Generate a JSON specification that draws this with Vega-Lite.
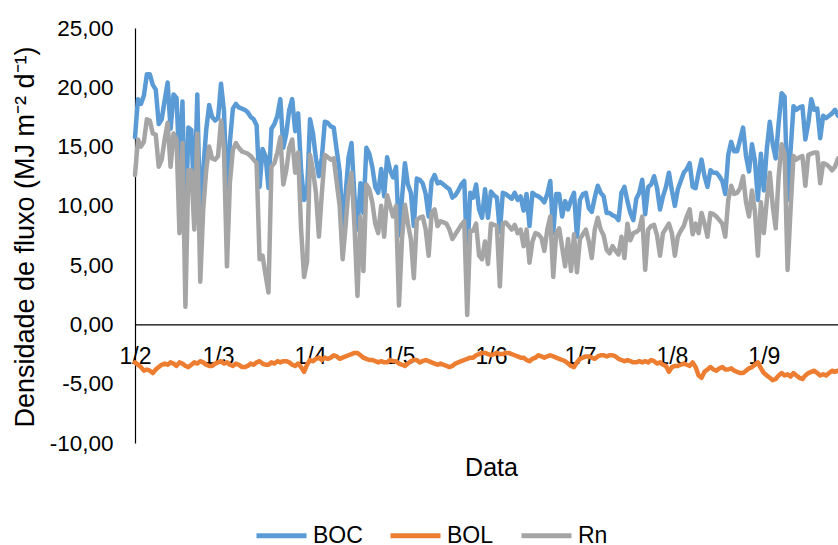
{
 "$schema": "https://vega.github.io/schema/vega-lite/v6.json",
 "width": 703, "height": 415,
 "autosize": {"type": "none"},
 "padding": {"left": 135, "top": 28, "right": 0, "bottom": 102},
 "background": "white",
 "config": {"view": {"stroke": null}, "font": "Liberation Sans"},
 "data": {"values": [
{"data":"2019-02-01","BOC":15.8,"BOL":-3.2,"Rn":12.6},
{"data":"2019-02-02","BOC":19.0,"BOL":-3.4,"Rn":15.6},
{"data":"2019-02-03","BOC":18.6,"BOL":-3.6,"Rn":15.0},
{"data":"2019-02-04","BOC":19.3,"BOL":-3.9,"Rn":15.4},
{"data":"2019-02-05","BOC":21.1,"BOL":-3.8,"Rn":17.3},
{"data":"2019-02-06","BOC":21.1,"BOL":-3.9,"Rn":17.2},
{"data":"2019-02-07","BOC":20.2,"BOL":-4.1,"Rn":16.1},
{"data":"2019-02-08","BOC":19.8,"BOL":-3.8,"Rn":16.0},
{"data":"2019-02-09","BOC":16.9,"BOL":-3.6,"Rn":13.3},
{"data":"2019-02-10","BOC":17.3,"BOL":-3.4,"Rn":13.9},
{"data":"2019-02-11","BOC":18.9,"BOL":-3.3,"Rn":15.6},
{"data":"2019-02-12","BOC":20.4,"BOL":-3.4,"Rn":17.0},
{"data":"2019-02-13","BOC":16.5,"BOL":-3.2,"Rn":13.3},
{"data":"2019-02-14","BOC":19.4,"BOL":-3.3,"Rn":16.1},
{"data":"2019-02-15","BOC":19.1,"BOL":-3.5,"Rn":15.6},
{"data":"2019-02-16","BOC":13.3,"BOL":-3.2,"Rn":7.7},
{"data":"2019-02-17","BOC":18.8,"BOL":-3.3,"Rn":15.3},
{"data":"2019-02-18","BOC":7.5,"BOL":-3.5,"Rn":1.5},
{"data":"2019-02-19","BOC":16.6,"BOL":-3.6,"Rn":13.0},
{"data":"2019-02-20","BOC":16.4,"BOL":-3.4,"Rn":13.0},
{"data":"2019-02-21","BOC":10.0,"BOL":-3.2,"Rn":8.0},
{"data":"2019-02-22","BOC":19.4,"BOL":-3.3,"Rn":16.1},
{"data":"2019-02-23","BOC":8.3,"BOL":-3.1,"Rn":3.6},
{"data":"2019-02-24","BOC":13.0,"BOL":-3.2,"Rn":9.7},
{"data":"2019-02-25","BOC":16.4,"BOL":-3.4,"Rn":13.0},
{"data":"2019-02-26","BOC":18.5,"BOL":-3.5,"Rn":15.0},
{"data":"2019-02-27","BOC":17.5,"BOL":-3.5,"Rn":14.0},
{"data":"2019-02-28","BOC":17.2,"BOL":-3.3,"Rn":13.9},
{"data":"2019-03-01","BOC":17.4,"BOL":-3.2,"Rn":14.2},
{"data":"2019-03-02","BOC":20.3,"BOL":-3.1,"Rn":17.2},
{"data":"2019-03-03","BOC":18.0,"BOL":-3.3,"Rn":14.7},
{"data":"2019-03-04","BOC":10.5,"BOL":-3.2,"Rn":4.9},
{"data":"2019-03-05","BOC":15.4,"BOL":-3.4,"Rn":12.0},
{"data":"2019-03-06","BOC":18.2,"BOL":-3.5,"Rn":14.7},
{"data":"2019-03-07","BOC":18.6,"BOL":-3.3,"Rn":15.3},
{"data":"2019-03-08","BOC":18.3,"BOL":-3.4,"Rn":14.9},
{"data":"2019-03-09","BOC":18.2,"BOL":-3.6,"Rn":14.6},
{"data":"2019-03-10","BOC":18.1,"BOL":-3.6,"Rn":14.5},
{"data":"2019-03-11","BOC":17.9,"BOL":-3.5,"Rn":14.4},
{"data":"2019-03-12","BOC":17.5,"BOL":-3.3,"Rn":14.2},
{"data":"2019-03-13","BOC":17.3,"BOL":-3.4,"Rn":13.9},
{"data":"2019-03-14","BOC":16.8,"BOL":-3.2,"Rn":13.6},
{"data":"2019-03-15","BOC":11.6,"BOL":-3.1,"Rn":5.5},
{"data":"2019-03-16","BOC":14.8,"BOL":-3.3,"Rn":5.8},
{"data":"2019-03-17","BOC":14.2,"BOL":-3.4,"Rn":4.2},
{"data":"2019-03-18","BOC":11.5,"BOL":-3.4,"Rn":2.7},
{"data":"2019-03-19","BOC":16.5,"BOL":-3.2,"Rn":13.3},
{"data":"2019-03-20","BOC":16.9,"BOL":-3.3,"Rn":13.6},
{"data":"2019-03-21","BOC":17.6,"BOL":-3.1,"Rn":14.5},
{"data":"2019-03-22","BOC":19.0,"BOL":-3.2,"Rn":15.8},
{"data":"2019-03-23","BOC":14.9,"BOL":-3.1,"Rn":11.8},
{"data":"2019-03-24","BOC":16.1,"BOL":-3.1,"Rn":13.0},
{"data":"2019-03-25","BOC":18.1,"BOL":-3.2,"Rn":14.9},
{"data":"2019-03-26","BOC":19.0,"BOL":-3.4,"Rn":15.6},
{"data":"2019-03-27","BOC":16.3,"BOL":-3.5,"Rn":12.8},
{"data":"2019-03-28","BOC":17.8,"BOL":-3.3,"Rn":14.5},
{"data":"2019-03-29","BOC":13.0,"BOL":-3.6,"Rn":8.0},
{"data":"2019-03-30","BOC":10.5,"BOL":-4.0,"Rn":4.0},
{"data":"2019-03-31","BOC":11.0,"BOL":-3.4,"Rn":5.3},
{"data":"2019-04-01","BOC":17.3,"BOL":-3.0,"Rn":14.3},
{"data":"2019-04-02","BOC":16.1,"BOL":-3.1,"Rn":13.0},
{"data":"2019-04-03","BOC":14.0,"BOL":-2.9,"Rn":11.1},
{"data":"2019-04-04","BOC":12.5,"BOL":-2.8,"Rn":7.4},
{"data":"2019-04-05","BOC":14.1,"BOL":-3.0,"Rn":11.1},
{"data":"2019-04-06","BOC":17.1,"BOL":-2.8,"Rn":14.3},
{"data":"2019-04-07","BOC":17.0,"BOL":-2.9,"Rn":14.1},
{"data":"2019-04-08","BOC":16.7,"BOL":-2.8,"Rn":13.9},
{"data":"2019-04-09","BOC":16.6,"BOL":-2.6,"Rn":14.0},
{"data":"2019-04-10","BOC":14.7,"BOL":-2.7,"Rn":12.0},
{"data":"2019-04-11","BOC":12.9,"BOL":-2.9,"Rn":10.0},
{"data":"2019-04-12","BOC":8.3,"BOL":-2.8,"Rn":5.5},
{"data":"2019-04-13","BOC":11.0,"BOL":-2.7,"Rn":8.3},
{"data":"2019-04-14","BOC":14.1,"BOL":-2.6,"Rn":11.5},
{"data":"2019-04-15","BOC":15.3,"BOL":-2.5,"Rn":12.8},
{"data":"2019-04-16","BOC":10.7,"BOL":-2.4,"Rn":8.3},
{"data":"2019-04-17","BOC":8.0,"BOL":-2.4,"Rn":2.4},
{"data":"2019-04-18","BOC":11.9,"BOL":-2.6,"Rn":9.1},
{"data":"2019-04-19","BOC":9.4,"BOL":-2.8,"Rn":4.5},
{"data":"2019-04-20","BOC":14.9,"BOL":-2.9,"Rn":11.8},
{"data":"2019-04-21","BOC":14.4,"BOL":-3.0,"Rn":11.4},
{"data":"2019-04-22","BOC":13.3,"BOL":-3.0,"Rn":10.3},
{"data":"2019-04-23","BOC":11.6,"BOL":-3.1,"Rn":8.5},
{"data":"2019-04-24","BOC":11.1,"BOL":-3.2,"Rn":7.7},
{"data":"2019-04-25","BOC":13.1,"BOL":-3.1,"Rn":10.0},
{"data":"2019-04-26","BOC":10.8,"BOL":-3.2,"Rn":7.4},
{"data":"2019-04-27","BOC":14.1,"BOL":-3.2,"Rn":10.9},
{"data":"2019-04-28","BOC":13.0,"BOL":-3.0,"Rn":10.0},
{"data":"2019-04-29","BOC":12.4,"BOL":-3.1,"Rn":9.1},
{"data":"2019-04-30","BOC":13.3,"BOL":-3.1,"Rn":10.0},
{"data":"2019-05-01","BOC":7.5,"BOL":-3.3,"Rn":1.6},
{"data":"2019-05-02","BOC":10.6,"BOL":-3.4,"Rn":7.2},
{"data":"2019-05-03","BOC":13.6,"BOL":-3.5,"Rn":10.1},
{"data":"2019-05-04","BOC":11.8,"BOL":-3.3,"Rn":8.5},
{"data":"2019-05-05","BOC":11.1,"BOL":-3.1,"Rn":7.2},
{"data":"2019-05-06","BOC":8.3,"BOL":-3.0,"Rn":3.9},
{"data":"2019-05-07","BOC":12.3,"BOL":-3.0,"Rn":8.8},
{"data":"2019-05-08","BOC":12.2,"BOL":-3.2,"Rn":9.0},
{"data":"2019-05-09","BOC":11.9,"BOL":-3.1,"Rn":9.1},
{"data":"2019-05-10","BOC":11.0,"BOL":-3.0,"Rn":8.0},
{"data":"2019-05-11","BOC":9.1,"BOL":-3.1,"Rn":5.8},
{"data":"2019-05-12","BOC":12.1,"BOL":-3.2,"Rn":9.4},
{"data":"2019-05-13","BOC":12.6,"BOL":-3.3,"Rn":9.7},
{"data":"2019-05-14","BOC":11.9,"BOL":-3.4,"Rn":8.3},
{"data":"2019-05-15","BOC":12.0,"BOL":-3.3,"Rn":8.7},
{"data":"2019-05-16","BOC":11.8,"BOL":-3.4,"Rn":8.6},
{"data":"2019-05-17","BOC":11.6,"BOL":-3.5,"Rn":8.5},
{"data":"2019-05-18","BOC":11.4,"BOL":-3.6,"Rn":8.0},
{"data":"2019-05-19","BOC":10.7,"BOL":-3.5,"Rn":7.2},
{"data":"2019-05-20","BOC":10.9,"BOL":-3.3,"Rn":7.6},
{"data":"2019-05-21","BOC":11.3,"BOL":-3.2,"Rn":8.0},
{"data":"2019-05-22","BOC":11.8,"BOL":-3.1,"Rn":8.4},
{"data":"2019-05-23","BOC":12.1,"BOL":-3.0,"Rn":8.7},
{"data":"2019-05-24","BOC":5.5,"BOL":-2.9,"Rn":0.8},
{"data":"2019-05-25","BOC":11.1,"BOL":-2.8,"Rn":7.9},
{"data":"2019-05-26","BOC":10.7,"BOL":-2.8,"Rn":7.9},
{"data":"2019-05-27","BOC":11.8,"BOL":-2.6,"Rn":8.5},
{"data":"2019-05-28","BOC":9.7,"BOL":-2.5,"Rn":5.8},
{"data":"2019-05-29","BOC":9.0,"BOL":-2.4,"Rn":5.5},
{"data":"2019-05-30","BOC":11.4,"BOL":-2.4,"Rn":7.0},
{"data":"2019-05-31","BOC":9.0,"BOL":-2.5,"Rn":5.1},
{"data":"2019-06-01","BOC":11.2,"BOL":-2.6,"Rn":8.5},
{"data":"2019-06-02","BOC":10.9,"BOL":-2.5,"Rn":8.4},
{"data":"2019-06-03","BOC":10.7,"BOL":-2.4,"Rn":8.3},
{"data":"2019-06-04","BOC":7.8,"BOL":-2.5,"Rn":3.2},
{"data":"2019-06-05","BOC":11.1,"BOL":-2.5,"Rn":8.5},
{"data":"2019-06-06","BOC":11.0,"BOL":-2.4,"Rn":8.6},
{"data":"2019-06-07","BOC":10.8,"BOL":-2.4,"Rn":8.3},
{"data":"2019-06-08","BOC":10.6,"BOL":-2.5,"Rn":8.0},
{"data":"2019-06-09","BOC":11.1,"BOL":-2.6,"Rn":8.4},
{"data":"2019-06-10","BOC":10.5,"BOL":-2.7,"Rn":7.7},
{"data":"2019-06-11","BOC":10.8,"BOL":-2.8,"Rn":8.0},
{"data":"2019-06-12","BOC":9.6,"BOL":-2.8,"Rn":6.6},
{"data":"2019-06-13","BOC":11.0,"BOL":-3.0,"Rn":8.0},
{"data":"2019-06-14","BOC":8.3,"BOL":-3.1,"Rn":5.2},
{"data":"2019-06-15","BOC":11.1,"BOL":-2.9,"Rn":7.0},
{"data":"2019-06-16","BOC":10.9,"BOL":-2.8,"Rn":7.7},
{"data":"2019-06-17","BOC":10.8,"BOL":-2.6,"Rn":7.6},
{"data":"2019-06-18","BOC":10.6,"BOL":-2.7,"Rn":7.3},
{"data":"2019-06-19","BOC":10.3,"BOL":-2.8,"Rn":6.2},
{"data":"2019-06-20","BOC":11.0,"BOL":-2.7,"Rn":8.0},
{"data":"2019-06-21","BOC":12.1,"BOL":-2.6,"Rn":9.1},
{"data":"2019-06-22","BOC":7.7,"BOL":-2.7,"Rn":4.0},
{"data":"2019-06-23","BOC":11.0,"BOL":-2.8,"Rn":7.7},
{"data":"2019-06-24","BOC":11.0,"BOL":-2.9,"Rn":8.1},
{"data":"2019-06-25","BOC":9.1,"BOL":-3.0,"Rn":6.5},
{"data":"2019-06-26","BOC":10.4,"BOL":-3.1,"Rn":4.9},
{"data":"2019-06-27","BOC":9.7,"BOL":-3.3,"Rn":7.2},
{"data":"2019-06-28","BOC":10.5,"BOL":-3.5,"Rn":4.5},
{"data":"2019-06-29","BOC":11.1,"BOL":-3.6,"Rn":7.6},
{"data":"2019-06-30","BOC":7.4,"BOL":-3.2,"Rn":4.4},
{"data":"2019-07-01","BOC":10.5,"BOL":-2.9,"Rn":7.2},
{"data":"2019-07-02","BOC":11.0,"BOL":-2.8,"Rn":7.6},
{"data":"2019-07-03","BOC":11.1,"BOL":-2.7,"Rn":8.0},
{"data":"2019-07-04","BOC":9.8,"BOL":-2.7,"Rn":7.0},
{"data":"2019-07-05","BOC":9.5,"BOL":-2.8,"Rn":5.6},
{"data":"2019-07-06","BOC":10.7,"BOL":-2.9,"Rn":8.0},
{"data":"2019-07-07","BOC":11.7,"BOL":-2.7,"Rn":9.0},
{"data":"2019-07-08","BOC":11.1,"BOL":-2.6,"Rn":8.0},
{"data":"2019-07-09","BOC":10.8,"BOL":-2.6,"Rn":7.5},
{"data":"2019-07-10","BOC":9.4,"BOL":-2.7,"Rn":6.3},
{"data":"2019-07-11","BOC":9.4,"BOL":-2.6,"Rn":6.0},
{"data":"2019-07-12","BOC":9.2,"BOL":-2.6,"Rn":6.6},
{"data":"2019-07-13","BOC":9.1,"BOL":-2.7,"Rn":6.2},
{"data":"2019-07-14","BOC":8.8,"BOL":-2.9,"Rn":5.9},
{"data":"2019-07-15","BOC":11.1,"BOL":-3.0,"Rn":7.4},
{"data":"2019-07-16","BOC":11.6,"BOL":-3.1,"Rn":5.6},
{"data":"2019-07-17","BOC":10.4,"BOL":-3.0,"Rn":8.5},
{"data":"2019-07-18","BOC":9.4,"BOL":-3.1,"Rn":7.1},
{"data":"2019-07-19","BOC":8.8,"BOL":-3.2,"Rn":7.7},
{"data":"2019-07-20","BOC":10.6,"BOL":-3.2,"Rn":7.8},
{"data":"2019-07-21","BOC":11.1,"BOL":-3.1,"Rn":8.0},
{"data":"2019-07-22","BOC":12.2,"BOL":-3.2,"Rn":9.1},
{"data":"2019-07-23","BOC":9.3,"BOL":-3.1,"Rn":4.6},
{"data":"2019-07-24","BOC":11.6,"BOL":-3.2,"Rn":8.0},
{"data":"2019-07-25","BOC":11.8,"BOL":-3.0,"Rn":8.3},
{"data":"2019-07-26","BOC":12.5,"BOL":-3.1,"Rn":8.4},
{"data":"2019-07-27","BOC":11.5,"BOL":-3.3,"Rn":7.5},
{"data":"2019-07-28","BOC":9.7,"BOL":-3.2,"Rn":5.8},
{"data":"2019-07-29","BOC":10.8,"BOL":-3.4,"Rn":7.7},
{"data":"2019-07-30","BOC":11.6,"BOL":-3.5,"Rn":8.1},
{"data":"2019-07-31","BOC":12.8,"BOL":-4.0,"Rn":8.5},
{"data":"2019-08-01","BOC":11.3,"BOL":-3.6,"Rn":7.7},
{"data":"2019-08-02","BOC":10.0,"BOL":-3.5,"Rn":5.8},
{"data":"2019-08-03","BOC":11.4,"BOL":-3.5,"Rn":7.4},
{"data":"2019-08-04","BOC":12.1,"BOL":-3.4,"Rn":7.9},
{"data":"2019-08-05","BOC":12.8,"BOL":-3.3,"Rn":8.3},
{"data":"2019-08-06","BOC":13.1,"BOL":-3.4,"Rn":9.1},
{"data":"2019-08-07","BOC":13.6,"BOL":-3.5,"Rn":9.7},
{"data":"2019-08-08","BOC":11.6,"BOL":-3.2,"Rn":7.6},
{"data":"2019-08-09","BOC":11.5,"BOL":-3.6,"Rn":8.5},
{"data":"2019-08-10","BOC":12.8,"BOL":-4.3,"Rn":7.7},
{"data":"2019-08-11","BOC":13.9,"BOL":-4.5,"Rn":9.4},
{"data":"2019-08-12","BOC":12.5,"BOL":-4.0,"Rn":8.5},
{"data":"2019-08-13","BOC":11.6,"BOL":-3.8,"Rn":7.4},
{"data":"2019-08-14","BOC":13.0,"BOL":-3.6,"Rn":9.4},
{"data":"2019-08-15","BOC":12.8,"BOL":-3.8,"Rn":9.3},
{"data":"2019-08-16","BOC":12.8,"BOL":-3.9,"Rn":9.1},
{"data":"2019-08-17","BOC":12.5,"BOL":-3.7,"Rn":8.8},
{"data":"2019-08-18","BOC":12.1,"BOL":-3.6,"Rn":8.5},
{"data":"2019-08-19","BOC":11.0,"BOL":-3.8,"Rn":7.4},
{"data":"2019-08-20","BOC":14.3,"BOL":-3.8,"Rn":10.5},
{"data":"2019-08-21","BOC":15.4,"BOL":-3.7,"Rn":11.7},
{"data":"2019-08-22","BOC":14.6,"BOL":-3.9,"Rn":11.0},
{"data":"2019-08-23","BOC":14.6,"BOL":-4.0,"Rn":11.1},
{"data":"2019-08-24","BOC":15.6,"BOL":-4.1,"Rn":11.5},
{"data":"2019-08-25","BOC":16.6,"BOL":-4.1,"Rn":12.5},
{"data":"2019-08-26","BOC":14.2,"BOL":-3.9,"Rn":10.3},
{"data":"2019-08-27","BOC":12.9,"BOL":-3.7,"Rn":9.1},
{"data":"2019-08-28","BOC":15.2,"BOL":-3.6,"Rn":11.3},
{"data":"2019-08-29","BOC":13.8,"BOL":-3.4,"Rn":9.5},
{"data":"2019-08-30","BOC":10.5,"BOL":-3.2,"Rn":5.8},
{"data":"2019-08-31","BOC":14.4,"BOL":-3.7,"Rn":10.3},
{"data":"2019-09-01","BOC":11.3,"BOL":-4.1,"Rn":7.7},
{"data":"2019-09-02","BOC":14.8,"BOL":-4.3,"Rn":10.5},
{"data":"2019-09-03","BOC":17.1,"BOL":-4.5,"Rn":12.8},
{"data":"2019-09-04","BOC":15.2,"BOL":-4.7,"Rn":10.0},
{"data":"2019-09-05","BOC":14.0,"BOL":-4.6,"Rn":8.1},
{"data":"2019-09-06","BOC":17.0,"BOL":-4.3,"Rn":12.5},
{"data":"2019-09-07","BOC":19.5,"BOL":-4.1,"Rn":15.2},
{"data":"2019-09-08","BOC":19.2,"BOL":-4.3,"Rn":14.4},
{"data":"2019-09-09","BOC":10.5,"BOL":-4.2,"Rn":4.6},
{"data":"2019-09-10","BOC":14.6,"BOL":-4.4,"Rn":9.7},
{"data":"2019-09-11","BOC":18.4,"BOL":-4.1,"Rn":14.2},
{"data":"2019-09-12","BOC":18.1,"BOL":-4.3,"Rn":13.9},
{"data":"2019-09-13","BOC":18.3,"BOL":-4.5,"Rn":14.1},
{"data":"2019-09-14","BOC":18.4,"BOL":-4.6,"Rn":14.2},
{"data":"2019-09-15","BOC":15.6,"BOL":-4.3,"Rn":11.7},
{"data":"2019-09-16","BOC":17.0,"BOL":-4.1,"Rn":14.3},
{"data":"2019-09-17","BOC":19.0,"BOL":-4.0,"Rn":14.4},
{"data":"2019-09-18","BOC":18.1,"BOL":-3.9,"Rn":14.5},
{"data":"2019-09-19","BOC":18.2,"BOL":-4.1,"Rn":14.5},
{"data":"2019-09-20","BOC":15.7,"BOL":-4.3,"Rn":11.9},
{"data":"2019-09-21","BOC":17.6,"BOL":-4.2,"Rn":13.6},
{"data":"2019-09-22","BOC":17.4,"BOL":-4.3,"Rn":13.5},
{"data":"2019-09-23","BOC":17.6,"BOL":-4.1,"Rn":13.3},
{"data":"2019-09-24","BOC":17.8,"BOL":-3.9,"Rn":13.0},
{"data":"2019-09-25","BOC":18.1,"BOL":-4.0,"Rn":13.3},
{"data":"2019-09-26","BOC":17.6,"BOL":-3.9,"Rn":14.0}
 ]},
 "transform": [{"fold": ["BOC", "BOL", "Rn"], "as": ["serie", "valor"]}],
 "mark": {"type": "line", "strokeWidth": 4.5, "strokeJoin": "round", "strokeCap": "round"},
 "encoding": {
  "x": {
   "field": "data", "type": "temporal",
   "scale": {"type": "utc", "nice": false, "domain": [{"year": 2019, "month": 2, "date": 1, "utc": true}, {"year": 2019, "month": 9, "date": 26, "utc": true}]},
   "axis": {
    "title": "Data",
    "values": [
     {"year": 2019, "month": 2, "date": 1, "utc": true},
     {"year": 2019, "month": 3, "date": 1, "utc": true},
     {"year": 2019, "month": 4, "date": 1, "utc": true},
     {"year": 2019, "month": 5, "date": 1, "utc": true},
     {"year": 2019, "month": 6, "date": 1, "utc": true},
     {"year": 2019, "month": 7, "date": 1, "utc": true},
     {"year": 2019, "month": 8, "date": 1, "utc": true},
     {"year": 2019, "month": 9, "date": 1, "utc": true}
    ],
    "labelExpr": "utcFormat(datum.value, '%-d/%-m')",
    "offset": -118.57,
    "ticks": false, "grid": false,
    "domainColor": "#000000", "domainWidth": 1.2,
    "labelFont": "Liberation Sans", "labelFontSize": 23, "labelColor": "#000000",
    "labelBaseline": "alphabetic", "labelPadding": 39,
    "labelFlush": false, "labelOverlap": false,
    "titleFont": "Liberation Sans", "titleFontSize": 25, "titleFontWeight": "normal", "titleColor": "#000000",
    "titleX": 356, "titleY": 150.6, "titleBaseline": "alphabetic", "titleAlign": "center"
   }
  },
  "y": {
   "field": "valor", "type": "quantitative",
   "scale": {"domain": [-10, 25], "nice": false, "zero": false},
   "axis": {
    "title": "Densidade de fluxo (MJ m⁻² d⁻¹)",
    "values": [-10, -5, 0, 5, 10, 15, 20, 25],
    "labelExpr": "(datum.value < 0 ? '-' : '') + replace(format(abs(datum.value), '.2f'), '.', ',')",
    "ticks": false, "grid": false,
    "domainColor": "#000000", "domainWidth": 1.2,
    "labelFont": "Liberation Sans", "labelFontSize": 22.5, "labelColor": "#000000", "labelPadding": 22,
    "titleFont": "Liberation Sans", "titleFontSize": 27, "titleFontWeight": "normal", "titleColor": "#000000",
    "titleAngle": -90, "titleX": -102, "titleY": 208.5, "titleBaseline": "alphabetic", "titleAlign": "center"
   }
  },
  "color": {
   "field": "serie", "type": "nominal",
   "scale": {"domain": ["BOC", "BOL", "Rn"], "range": ["#5B9BD5", "#ED7D31", "#A5A5A5"]},
   "legend": {
    "title": null, "orient": "none", "legendX": 119, "legendY": 480, "direction": "horizontal",
    "symbolType": "stroke", "symbolSize": 2500, "symbolStrokeWidth": 5,
    "labelFont": "Liberation Sans", "labelFontSize": 23, "labelColor": "#000000",
    "labelOffset": 4, "columnPadding": 17, "padding": 0
   }
  }
 }
}
